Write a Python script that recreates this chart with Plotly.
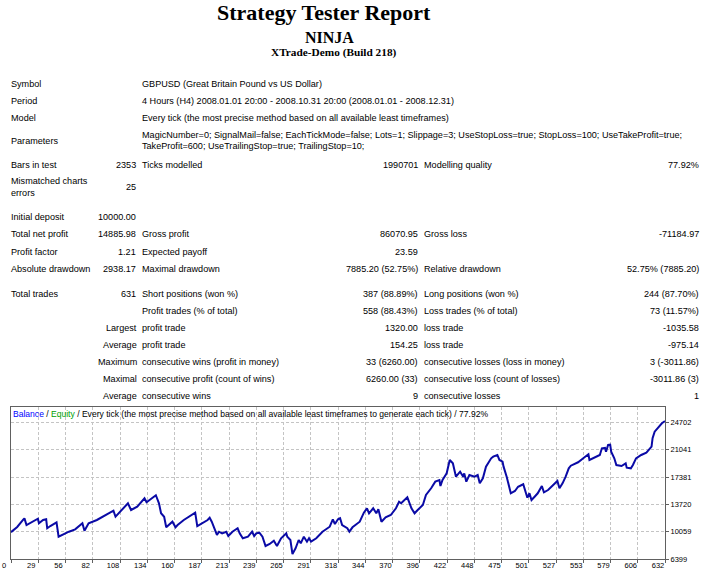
import numpy as np
import plotly.graph_objects as go

W, H = 718, 571

# balance curve (trade number, balance)
trade_no = [0, 6, 12, 13, 15, 20, 26, 27, 31, 34, 35, 38, 44, 46, 49, 56, 62, 67, 69, 71,
            75, 83, 90, 99, 101, 113, 116, 122, 129, 131, 140, 143, 145, 148, 150, 154, 156, 159, 161, 167,
            172, 176, 178, 180, 183, 190, 192, 194, 199, 201, 204, 208, 210, 214, 219, 221, 224, 229, 233, 235,
            237, 240, 243, 246, 250, 254, 257, 261, 266, 267, 270, 272, 275, 278, 280, 283, 286, 288, 290, 295,
            301, 308, 311, 313, 316, 318, 320, 323, 325, 327, 330, 337, 341, 344, 346, 350, 353, 355, 358, 362,
            367, 372, 375, 377, 380, 383, 387, 390, 393, 398, 401, 406, 410, 414, 415, 417, 421, 424, 427, 430,
            434, 437, 438, 440, 443, 448, 451, 453, 456, 459, 464, 466, 470, 472, 475, 476, 479, 481, 483, 487,
            490, 495, 497, 499, 501, 503, 506, 509, 513, 515, 519, 524, 528, 530, 533, 536, 539, 541, 548, 553,
            558, 559, 564, 569, 571, 574, 575, 577, 579, 580, 583, 585, 590, 594, 595, 599, 601, 604, 609, 614,
            619, 620, 622, 625, 629, 632]
balance = [10000, 10700, 11700, 11850, 10950, 11320, 11800, 11190, 11630, 11720, 10520, 10820, 11320, 9390, 9620, 10060, 10380, 11050, 11190, 10190,
           11190, 11630, 12160, 12880, 12070, 13870, 12970, 13410, 14540, 14000, 14947, 13870, 12530, 12070, 10650, 11090, 11400, 10650, 10960, 11630,
           12070, 12530, 12610, 10820, 11090, 11630, 11940, 11400, 9620, 10060, 9840, 10060, 9480, 10060, 10520, 9840, 9180, 9390, 10060, 9480,
           9840, 9930, 9390, 8140, 8410, 8850, 8140, 9180, 9840, 9390, 8950, 7062, 7830, 8950, 8500, 9390, 8720, 9180, 8720, 9180,
           10060, 10730, 11720, 11090, 11720, 11860, 10960, 10730, 10520, 10060, 10650, 11400, 12610, 13200, 12530, 13200, 12530, 13060, 11400, 11990,
           12300, 13200, 14080, 13870, 14220, 14670, 13200, 12530, 12970, 13640, 14980, 15880, 16770, 16990, 16190, 16990, 17890, 19680, 19230, 17440,
           18110, 17440, 17880, 16770, 17660, 17440, 17660, 16550, 17220, 18780, 19900, 20120, 20350, 19680, 19450, 18780, 17440, 16320, 15210, 15520,
           16090, 16420, 15520, 14620, 15210, 14310, 14750, 15210, 16190, 15340, 15650, 16320, 16860, 15880, 16550, 17440, 18560, 18910, 19370, 19900,
           20440, 19680, 19980, 20350, 21240, 21290, 20790, 21690, 21730, 20790, 19900, 19000, 18870, 19230, 18640, 18560, 19000, 19900, 20350, 20650,
           21460, 22590, 23470, 24010, 24600, 24886]

x_tick_labels = ["0", "29", "56", "82", "108", "134", "160", "187", "213", "239", "265", "291", "318",
                 "344", "370", "396", "422", "448", "475", "501", "527", "553", "579", "606", "632"]
y_tick_vals = [6399, 10059.6, 13720.2, 17380.8, 21041.4, 24702]
y_tick_labels = ["6399", "10059", "13720", "17381", "21041", "24702"]

# report text
title_lines = ["Strategy Tester Report", "NINJA", "XTrade-Demo (Build 218)"]
info_labels = ["Symbol", "Period", "Model"]
info_values = ["GBPUSD (Great Britain Pound vs US Dollar)",
               "4 Hours (H4) 2008.01.01 20:00 - 2008.10.31 20:00 (2008.01.01 - 2008.12.31)",
               "Every tick (the most precise method based on all available least timeframes)"]
parameters = ["MagicNumber=0; SignalMail=false; EachTickMode=false; Lots=1; Slippage=3; UseStopLoss=true; StopLoss=100; UseTakeProfit=true;",
              "TakeProfit=600; UseTrailingStop=true; TrailingStop=10;"]

# rows: label1, value1, label2, value2, label3, value3
stat_rows = [
    ["Bars in test", "2353", "Ticks modelled", "1990701", "Modelling quality", "77.92%"],
    ["Mismatched charts<br>errors", "25", "", "", "", ""],
    ["Initial deposit", "10000.00", "", "", "", ""],
    ["Total net profit", "14885.98", "Gross profit", "86070.95", "Gross loss", "-71184.97"],
    ["Profit factor", "1.21", "Expected payoff", "23.59", "", ""],
    ["Absolute drawdown", "2938.17", "Maximal drawdown", "7885.20 (52.75%)", "Relative drawdown", "52.75% (7885.20)"],
    ["Total trades", "631", "Short positions (won %)", "387 (88.89%)", "Long positions (won %)", "244 (87.70%)"],
    ["", "", "Profit trades (% of total)", "558 (88.43%)", "Loss trades (% of total)", "73 (11.57%)"],
]
sub_rows = [
    ["Largest", "profit trade", "1320.00", "loss trade", "-1035.58"],
    ["Average", "profit trade", "154.25", "loss trade", "-975.14"],
    ["Maximum", "consecutive wins (profit in money)", "33 (6260.00)", "consecutive losses (loss in money)", "3 (-3011.86)"],
    ["Maximal", "consecutive profit (count of wins)", "6260.00 (33)", "consecutive loss (count of losses)", "-3011.86 (3)"],
    ["Average", "consecutive wins", "9", "consecutive losses", "1"],
]


def fx(x):
    return x / W


def fy(y):
    return 1 - y / H


annotations = []
SANS = "Liberation Sans"
SERIF = "Liberation Serif"


def txt(x, y, s, anchor="left", size=9.1, family=SANS, color="#000000"):
    # annotation boxes carry 2px of padding, take it back out
    if anchor == "left":
        x -= 2
    elif anchor == "right":
        x += 2
    annotations.append(dict(x=fx(x), y=fy(y), xref="paper", yref="paper", text=s,
                            showarrow=False, xanchor=anchor, yanchor="middle", align=anchor,
                            font=dict(family=family, size=size, color=color)))


# heading
txt(324, 13, "<b>" + title_lines[0] + "</b>", "center", 22, SERIF)
txt(329, 37, "<b>" + title_lines[1] + "</b>", "center", 16, SERIF)
txt(334, 52, "<b>" + title_lines[2] + "</b>", "center", 11.3, SERIF)

# table
row_y = [84, 101, 118]
for lab, val, y in zip(info_labels, info_values, row_y):
    txt(11, y, lab)
    txt(142, y, val)
txt(11, 141, "Parameters")
txt(142, 135, parameters[0])
txt(142, 146, parameters[1])

stat_y = [165, 187, 217, 234, 252, 269, 294, 311]
for row, y in zip(stat_rows, stat_y):
    l1, v1, l2, v2, l3, v3 = row
    if l1:
        txt(11, y, l1)
    if v1:
        txt(136, y, v1, "right")
    if l2:
        txt(142, y, l2)
    if v2:
        txt(418, y, v2, "right")
    if l3:
        txt(424, y, l3)
    if v3:
        txt(699, y, v3, "right")

sub_y = [328, 345, 362, 379, 396]
for row, y in zip(sub_rows, sub_y):
    l1, l2, v2, l3, v3 = row
    txt(137, y, l1, "right")
    txt(142, y, l2)
    txt(418, y, v2, "right")
    txt(424, y, l3)
    txt(699, y, v3, "right")

# chart caption
txt(13, 414, "<span style='color:#0000ff'>Balance</span> / <span style='color:#00a000'>Equity</span>"
             " / Every tick (the most precise method based on all available least timeframes to generate each tick) / 77.92%",
    "left", 8.55)

fig = go.Figure()
fig.add_trace(go.Scatter(x=trade_no, y=balance, mode="lines",
                         line=dict(color="#0a0aa6", width=2), hoverinfo="skip"))

fig.update_layout(
    width=W, height=H, autosize=False,
    margin=dict(l=0, r=0, t=0, b=0, pad=0),
    paper_bgcolor="white", plot_bgcolor="white",
    showlegend=False,
    annotations=annotations,
    xaxis=dict(domain=[fx(11), fx(665)], range=[0, 632], automargin=False,
               tickvals=list(np.linspace(0, 632, 25)), ticktext=x_tick_labels,
               ticks="outside", ticklen=3, tickcolor="#606060",
               ticklabelshift=-7, ticklabelstandoff=-4,
               tickfont=dict(family=SANS, size=7.5, color="#000000"),
               showgrid=True, gridcolor="#c4c4c4", griddash="3px,2px", gridwidth=1,
               showline=True, linecolor="#606060", linewidth=1, mirror=True,
               zeroline=False, fixedrange=True),
    yaxis=dict(domain=[fy(559), fy(407)], range=[6399, 26781], side="right", automargin=False,
               tickvals=y_tick_vals, ticktext=y_tick_labels,
               ticks="outside", ticklen=3, tickcolor="#606060",
               tickfont=dict(family=SANS, size=7.5, color="#000000"),
               showgrid=True, gridcolor="#c4c4c4", griddash="3px,2px", gridwidth=1,
               showline=True, linecolor="#606060", linewidth=1, mirror=True,
               zeroline=False, fixedrange=True),
)

page_fix = ("document.body.style.margin='0';"
            "document.documentElement.style.overflow='hidden';")

fig.write_html("out.html", config={"displayModeBar": False, "responsive": False},
               post_script=page_fix)
